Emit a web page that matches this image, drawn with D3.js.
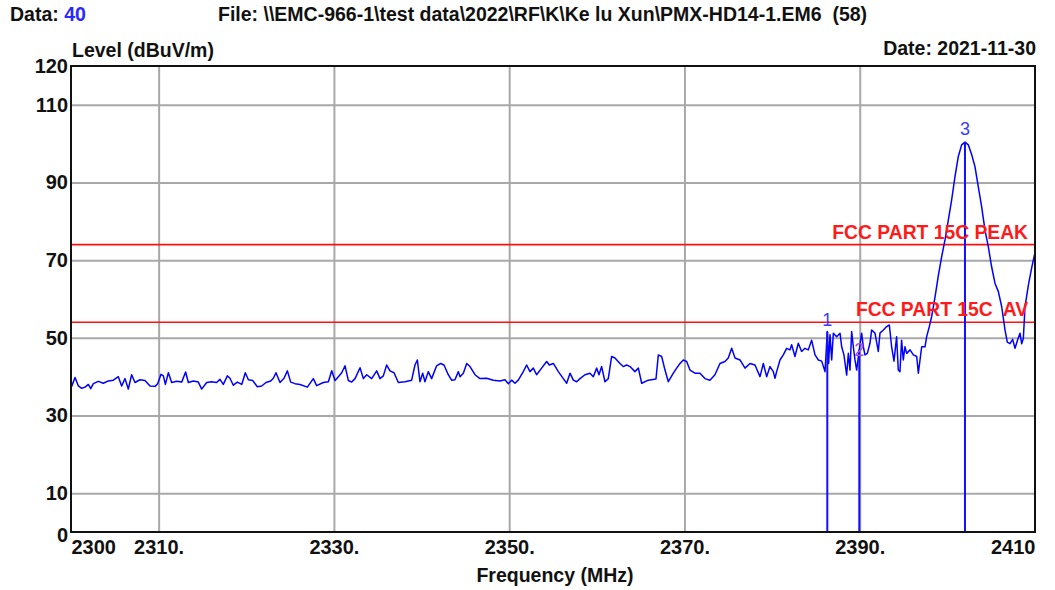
<!DOCTYPE html>
<html>
<head>
<meta charset="utf-8">
<script src="https://cdn.jsdelivr.net/npm/d3@7"></script>
<style>
  html, body { margin: 0; padding: 0; background: #fff; }
  svg { display: block; font-family: "Liberation Sans", Arial, sans-serif; }
</style>
</head>
<body>
<svg id="chart" width="1055" height="590"></svg>
<script>
// Sweep: frequency (MHz) and measured level (dBuV/m)
const freqMHz = [
  2300.08, 2300.46, 2300.84, 2301.22, 2301.60, 2301.98, 2302.25, 2302.55, 2303.12, 2303.69,
  2304.26, 2304.83, 2305.40, 2305.78, 2306.16, 2306.54, 2306.92, 2307.30, 2307.87, 2308.44,
  2309.02, 2309.59, 2309.89, 2310.27, 2310.54, 2310.77, 2311.11, 2311.49, 2312.06, 2312.63,
  2313.08, 2313.39, 2313.96, 2314.53, 2314.91, 2315.48, 2316.05, 2316.62, 2317.00, 2317.38,
  2317.84, 2318.14, 2318.52, 2318.98, 2319.48, 2319.89, 2320.24, 2320.73, 2321.26, 2321.76,
  2322.25, 2322.79, 2323.09, 2323.39, 2323.85, 2324.31, 2324.69, 2325.07, 2325.56, 2326.13,
  2326.97, 2327.65, 2328.03, 2328.79, 2329.37, 2329.75, 2330.13, 2330.51, 2330.89, 2331.27,
  2331.65, 2332.03, 2332.41, 2332.98, 2333.36, 2333.74, 2334.31, 2334.88, 2335.26, 2335.64,
  2336.02, 2336.40, 2336.86, 2337.35, 2338.11, 2338.87, 2339.25, 2339.52, 2339.82, 2340.13,
  2340.39, 2340.77, 2341.15, 2341.72, 2342.18, 2342.56, 2343.05, 2343.43, 2343.81, 2344.20,
  2344.39, 2344.77, 2345.15, 2345.53, 2346.10, 2346.67, 2347.43, 2348.19, 2348.95, 2349.52,
  2349.90, 2350.28, 2350.66, 2351.04, 2351.61, 2351.99, 2352.37, 2352.75, 2353.13, 2353.70,
  2354.28, 2354.58, 2355.04, 2355.61, 2356.18, 2356.56, 2356.94, 2357.32, 2357.70, 2358.08,
  2358.65, 2359.22, 2359.60, 2359.98, 2360.25, 2360.55, 2360.93, 2361.31, 2361.69, 2362.07,
  2362.64, 2363.02, 2363.40, 2363.79, 2364.35, 2364.74, 2365.12, 2365.88, 2366.75, 2367.02,
  2367.40, 2367.78, 2368.16, 2368.73, 2369.11, 2369.49, 2369.87, 2370.25, 2370.63, 2371.20,
  2371.77, 2372.34, 2372.91, 2373.48, 2374.05, 2374.62, 2375.00, 2375.39, 2375.77, 2376.34,
  2376.91, 2377.48, 2378.05, 2378.62, 2379.00, 2379.38, 2379.76, 2380.14, 2380.33, 2380.52,
  2380.90, 2381.28, 2381.66, 2382.04, 2382.23, 2382.61, 2382.99, 2383.37, 2383.75, 2384.13,
  2384.51, 2384.90, 2385.28, 2385.66, 2386.04, 2386.30, 2386.45, 2386.61, 2386.80, 2386.99,
  2387.37, 2387.75, 2387.94, 2388.20, 2388.51, 2388.70, 2388.89, 2389.08, 2389.27, 2389.46,
  2389.65, 2389.95, 2390.22, 2390.41, 2390.60, 2390.87, 2391.17, 2391.36, 2391.74, 2392.12,
  2392.31, 2392.69, 2393.07, 2393.38, 2393.64, 2393.91, 2394.21, 2394.40, 2394.59, 2394.78,
  2394.97, 2395.16, 2395.36, 2395.74, 2396.12, 2396.50, 2396.69, 2396.88, 2397.07, 2397.45,
  2397.64, 2397.94, 2398.21, 2398.59, 2398.97, 2399.35, 2399.73, 2400.11, 2400.49, 2400.87,
  2401.25, 2401.63, 2402.01, 2402.39, 2402.77, 2403.15, 2403.53, 2403.91, 2404.29, 2404.67,
  2405.05, 2405.44, 2405.82, 2406.20, 2406.58, 2406.84, 2407.15, 2407.45, 2407.72, 2408.02,
  2408.29, 2408.48, 2408.67, 2408.86, 2409.24, 2409.62, 2410.00
];
const levelDb = [
  37.5, 39.8, 37.6, 37.0, 37.3, 38.0, 36.9, 38.2, 38.8, 38.3,
  38.9, 39.1, 40.0, 37.6, 39.5, 36.8, 40.5, 38.5, 39.2, 39.0,
  37.6, 37.5, 38.2, 40.6, 40.2, 38.0, 41.0, 38.5, 38.8, 38.6,
  41.2, 38.5, 38.9, 38.6, 36.8, 38.5, 38.7, 38.5, 39.3, 38.0,
  40.2, 39.6, 37.8, 38.6, 38.0, 41.0, 39.2, 39.0, 37.4, 37.6,
  38.5, 38.9, 39.6, 41.0, 38.5, 39.6, 41.5, 38.6, 38.2, 38.0,
  37.3, 39.5, 37.7, 38.5, 38.7, 41.5, 39.0, 40.0, 41.0, 42.8,
  39.0, 38.6, 39.5, 42.3, 39.5, 40.5, 39.5, 41.5, 39.5, 40.2,
  43.0, 41.5, 41.0, 38.5, 38.7, 39.1, 43.0, 44.3, 38.7, 40.9,
  38.7, 41.3, 39.5, 42.8, 43.4, 43.0, 40.5, 39.1, 39.2, 41.3,
  40.0, 40.9, 43.4, 42.6, 40.5, 39.5, 39.6, 39.1, 38.9, 39.2,
  38.2, 39.1, 38.3, 39.1, 41.3, 43.0, 41.3, 42.2, 40.5, 42.2,
  43.9, 43.0, 43.4, 41.3, 39.5, 38.3, 40.9, 39.1, 38.7, 39.5,
  40.5, 40.9, 40.0, 42.2, 40.5, 42.6, 38.7, 39.5, 45.2, 44.8,
  43.4, 42.6, 43.0, 42.6, 41.3, 42.2, 38.3, 39.1, 39.4, 45.6,
  45.2, 41.7, 38.7, 40.9, 42.2, 43.4, 44.3, 43.9, 41.7, 40.9,
  40.9, 39.5, 39.1, 40.5, 43.4, 43.9, 44.8, 47.3, 44.8, 44.3,
  42.2, 43.4, 43.0, 40.0, 43.4, 40.0, 42.6, 41.3, 39.6, 41.3,
  44.3, 45.6, 47.3, 46.9, 48.2, 45.2, 48.6, 46.5, 47.3, 46.9,
  49.4, 45.6, 44.3, 44.0, 41.3, 51.6, 43.4, 50.8, 44.3, 51.2,
  50.3, 51.2, 47.7, 45.6, 40.4, 46.0, 41.7, 51.6, 47.7, 44.3,
  41.7, 47.0, 51.2, 47.7, 45.6, 46.0, 48.6, 52.0, 51.2, 46.5,
  51.2, 52.0, 52.9, 53.3, 47.7, 44.0, 50.3, 41.7, 41.3, 49.4,
  44.3, 47.7, 46.0, 46.9, 45.6, 45.2, 40.9, 44.3, 47.7, 47.7,
  50.3, 52.9, 55.5, 60.5, 66.0, 70.9, 75.2, 80.3, 85.5, 91.5,
  96.7, 99.7, 100.4, 99.7, 97.2, 94.1, 88.9, 83.8, 77.8, 73.5,
  68.3, 64.0, 61.9, 58.0, 52.0, 48.9, 48.5, 49.6, 47.3, 49.5,
  51.2, 48.5, 49.9, 58.0, 63.5, 68.0, 72.0
];

// Limit lines
const limitNames  = ["FCC PART 15C PEAK", "FCC PART 15C  AV"];
const limitLevels = [74, 54];

// Markers
const markerNo    = ["1", "2", "3"];
const markerFreq  = [2386.30, 2389.95, 2402.01];
const markerLevel = [51.6, 47.0, 100.4];

// Axis ticks
const yTickValues = [0, 10, 30, 50, 70, 90, 110, 120];
const yGridValues = [10, 30, 50, 70, 90, 110];
const xTickValues = [2300, 2310, 2330, 2350, 2370, 2390, 2410];
const xTickLabels = ["2300", "2310.", "2330.", "2350.", "2370.", "2390.", "2410"];
const xGridValues = [2310, 2330, 2350, 2370, 2390];

// Header texts
const dataLabel = "Data: ";
const dataNo = "40";
const fileText = "File: \\\\EMC-966-1\\test data\\2022\\RF\\K\\Ke lu Xun\\PMX-HD14-1.EM6  (58)";
const yTitle = "Level (dBuV/m)";
const dateText = "Date: 2021-11-30";
const xTitle = "Frequency (MHz)";

const svg = d3.select("#chart");
const plot = { left: 71, top: 66, right: 1035, bottom: 532 };

const x = d3.scaleLinear().domain([2300, 2410]).range([plot.left, plot.right]);
const y = d3.scaleLinear().domain([0, 120]).range([plot.bottom, plot.top]);

const BOLD = "bold";
const TEXT_SIZE = 19.5;
const TICK_SIZE = 20;

// Grid
svg.append("g")
  .attr("transform", `translate(0,${plot.bottom})`)
  .call(d3.axisBottom(x).tickValues(xGridValues).tickSize(-(plot.bottom - plot.top)).tickFormat(""))
  .call(g => g.select(".domain").remove())
  .call(g => g.selectAll("line").attr("stroke", "#a8a8a8").attr("stroke-width", 2));

svg.append("g")
  .attr("transform", `translate(${plot.left},0)`)
  .call(d3.axisLeft(y).tickValues(yGridValues).tickSize(-(plot.right - plot.left)).tickFormat(""))
  .call(g => g.select(".domain").remove())
  .call(g => g.selectAll("line").attr("stroke", "#a8a8a8").attr("stroke-width", 2));

// Limit lines
svg.append("g").selectAll("line")
  .data(limitLevels)
  .join("line")
  .attr("x1", plot.left).attr("x2", plot.right)
  .attr("y1", d => y(d)).attr("y2", d => y(d))
  .attr("stroke", "#ff1010").attr("stroke-width", 1.6);

// Trace
const points = freqMHz.map((f, i) => [f, levelDb[i]]);
svg.append("path")
  .datum(points)
  .attr("fill", "none")
  .attr("stroke", "#0000ff")
  .attr("stroke-width", 1.5)
  .attr("stroke-linejoin", "round")
  .attr("d", d3.line().x(d => x(d[0])).y(d => y(d[1])));

// Marker lines
svg.append("g").selectAll("line")
  .data(markerFreq)
  .join("line")
  .attr("x1", d => x(d)).attr("x2", d => x(d))
  .attr("y1", (d, i) => y(markerLevel[i]))
  .attr("y2", plot.bottom)
  .attr("stroke", "#1010ff").attr("stroke-width", 2);

// Marker numbers
const markerDy = [-12, 1, -13];
const markerColor = ["#3a3aff", "#a050d8", "#3a3aff"];
svg.append("g").selectAll("text")
  .data(markerNo)
  .join("text")
  .attr("x", (d, i) => x(markerFreq[i]))
  .attr("y", (d, i) => y(markerLevel[i]) + markerDy[i])
  .attr("text-anchor", "middle")
  .attr("dominant-baseline", "central")
  .attr("font-size", 18)
  .attr("fill", (d, i) => markerColor[i])
  .text(d => d);

// Limit labels
svg.append("g").selectAll("text")
  .data(limitNames)
  .join("text")
  .attr("x", 1028)
  .attr("y", (d, i) => y(limitLevels[i]) - 6)
  .attr("text-anchor", "end")
  .attr("font-size", 19.3)
  .attr("font-weight", BOLD)
  .attr("fill", "#ff1a1a")
  .style("white-space", "pre")
  .text(d => d);

// Frame
svg.append("rect")
  .attr("x", plot.left).attr("y", plot.top)
  .attr("width", plot.right - plot.left).attr("height", plot.bottom - plot.top)
  .attr("fill", "none").attr("stroke", "#111").attr("stroke-width", 2);

// Y axis labels
svg.append("g")
  .attr("transform", `translate(${plot.left},0)`)
  .call(d3.axisLeft(y).tickValues(yTickValues).tickSize(0).tickPadding(3).tickFormat(d3.format("d")))
  .call(g => g.select(".domain").remove())
  .call(g => g.selectAll("text")
    .attr("font-family", "'Liberation Sans', Arial, sans-serif")
    .attr("font-size", TICK_SIZE).attr("font-weight", BOLD).attr("fill", "#111"))
  .call(g => g.selectAll(".tick").filter(d => d === 0).select("text").attr("dy", "0.45em"));

// X axis labels
svg.append("g")
  .attr("transform", `translate(0,${plot.bottom})`)
  .call(d3.axisBottom(x).tickValues(xTickValues).tickSize(0).tickPadding(8)
    .tickFormat((d, i) => xTickLabels[i]))
  .call(g => g.select(".domain").remove())
  .call(g => g.selectAll("text")
    .attr("font-family", "'Liberation Sans', Arial, sans-serif")
    .attr("font-size", TICK_SIZE).attr("font-weight", BOLD).attr("fill", "#111")
    .attr("text-anchor", (d, i) => i === 0 ? "start" : (i === xTickValues.length - 1 ? "end" : "middle")));

// Titles
const header = svg.append("text")
  .attr("x", 10).attr("y", 21)
  .attr("font-size", TEXT_SIZE).attr("font-weight", BOLD)
  .style("white-space", "pre");
header.append("tspan").attr("fill", "#111").text(dataLabel);
header.append("tspan").attr("fill", "#2a2aff").text(dataNo);

svg.append("text")
  .attr("x", 218).attr("y", 21)
  .attr("font-size", TEXT_SIZE).attr("font-weight", BOLD).attr("fill", "#111")
  .style("white-space", "pre")
  .text(fileText);

svg.append("text")
  .attr("x", 72).attr("y", 57)
  .attr("font-size", TEXT_SIZE).attr("font-weight", BOLD).attr("fill", "#111")
  .text(yTitle);

svg.append("text")
  .attr("x", 1036).attr("y", 55)
  .attr("text-anchor", "end")
  .attr("font-size", TEXT_SIZE).attr("font-weight", BOLD).attr("fill", "#111")
  .text(dateText);

svg.append("text")
  .attr("x", 555).attr("y", 582)
  .attr("text-anchor", "middle")
  .attr("font-size", TEXT_SIZE).attr("font-weight", BOLD).attr("fill", "#111")
  .text(xTitle);
</script>
</body>
</html>
